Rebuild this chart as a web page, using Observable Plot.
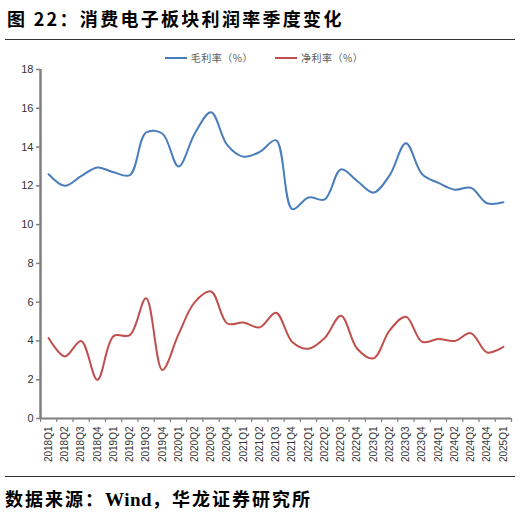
<!DOCTYPE html>
<html><head><meta charset="utf-8">
<script src="https://cdn.jsdelivr.net/npm/d3@7"></script>
<script src="https://cdn.jsdelivr.net/npm/@observablehq/plot@0.6"></script>
<style>
body{margin:0;background:#fff;width:520px;height:517px;overflow:hidden;position:relative;font-family:"Liberation Sans",Arial,sans-serif;}
#title{position:absolute;left:7px;top:5px;font-family:"Noto Sans CJK SC";font-weight:700;font-size:18px;color:#000;white-space:nowrap;letter-spacing:2.3px}
#rule1{position:absolute;left:5px;width:510px;top:39px;border-top:1px solid #333}
#legend{position:absolute;top:50px;left:4px;width:520px;font-family:"Noto Sans CJK SC";font-size:10px;color:#595959;display:flex;justify-content:center;gap:22px;letter-spacing:0.5px}
#legend span{display:flex;align-items:center}
#legend i{display:inline-block;width:22px;height:0;border-top:2px solid;margin-right:4px}
#chart{position:absolute;left:0;top:60px}
#rule2{position:absolute;left:5px;width:510px;top:476px;border-top:1px solid #333}
#source{position:absolute;left:5px;top:485px;font-family:"Noto Sans CJK SC";font-weight:700;font-size:18px;color:#000;white-space:nowrap;letter-spacing:2px}
#source b{font-family:"Liberation Serif";font-size:19px;letter-spacing:0.5px}
</style></head>
<body>
<div id="title">图 22：消费电子板块利润率季度变化</div>
<div id="rule1"></div>
<div id="legend"></div>
<div id="chart"></div>
<div id="rule2"></div>
<div id="source">数据来源：<b>Wind</b>，华龙证券研究所</div>
<script>
const quarters = ["2018Q1","2018Q2","2018Q3","2018Q4","2019Q1","2019Q2","2019Q3","2019Q4","2020Q1","2020Q2","2020Q3","2020Q4","2021Q1","2021Q2","2021Q3","2021Q4","2022Q1","2022Q2","2022Q3","2022Q4","2023Q1","2023Q2","2023Q3","2023Q4","2024Q1","2024Q2","2024Q3","2024Q4","2025Q1"];
const grossMargin = [12.6,12.0,12.5,12.95,12.7,12.55,14.75,14.7,13.0,14.7,15.8,14.1,13.5,13.75,14.35,10.8,11.4,11.3,12.85,12.25,11.65,12.55,14.2,12.6,12.15,11.8,11.9,11.1,11.15];
const netMargin = [4.15,3.2,4.0,2.0,4.25,4.3,6.2,2.5,4.35,6.0,6.55,4.9,4.95,4.7,5.45,3.95,3.6,4.15,5.3,3.6,3.1,4.55,5.25,3.95,4.1,4.0,4.4,3.4,3.7];
const seriesNames = ["毛利率（%）","净利率（%）"];
const colors = ["#4a7ebb","#c0504d"];
const yTicks = [0,2,4,6,8,10,12,14,16,18];

const legend = document.getElementById("legend");
seriesNames.forEach((n,k)=>{
  const s=document.createElement("span");
  s.innerHTML=`<i style="border-color:${colors[k]}"></i>${n}`;
  legend.appendChild(s);
});

const data = [];
quarters.forEach((q,i)=>{
  data.push({i, q, v: grossMargin[i], s: seriesNames[0]});
  data.push({i, q, v: netMargin[i], s: seriesNames[1]});
});
const n = quarters.length;
const boundaries = d3.range(n+1).map(k=>k-0.5);

const chart = Plot.plot({
  width: 520,
  height: 412,
  marginLeft: 40,
  marginRight: 9,
  marginTop: 9,
  marginBottom: 54,
  style: {fontFamily: "Liberation Sans, Arial, sans-serif", color: "#333"},
  x: {type: "linear", domain: [-0.5, n-0.5]},
  y: {domain: [0,18]},
  color: {domain: seriesNames, range: colors},
  marks: [
    Plot.axisY({ticks: yTicks, tickSize: 4, tickPadding: 3, fontSize: 11, stroke: "#808080", strokeWidth: 1.5, fill: "#333", label: null}),
    Plot.axisX({ticks: d3.range(n), tickSize: 0, tickPadding: 8, tickRotate: -90, fontSize: 10, fill: "#333", tickFormat: d => quarters[d], label: null}),
    Plot.axisX({ticks: boundaries, tickSize: 4, text: null, stroke: "#808080", strokeWidth: 1.2, label: null}),
    Plot.ruleY([0], {stroke: "#808080", strokeWidth: 2}),
    Plot.ruleX([-0.5], {stroke: "#808080", strokeWidth: 2.5}),
    Plot.line(data, {x: "i", y: "v", z: "s", stroke: "s", strokeWidth: 2, curve: "catmull-rom"})
  ]
});
document.getElementById("chart").appendChild(chart);
</script>
</body></html>
